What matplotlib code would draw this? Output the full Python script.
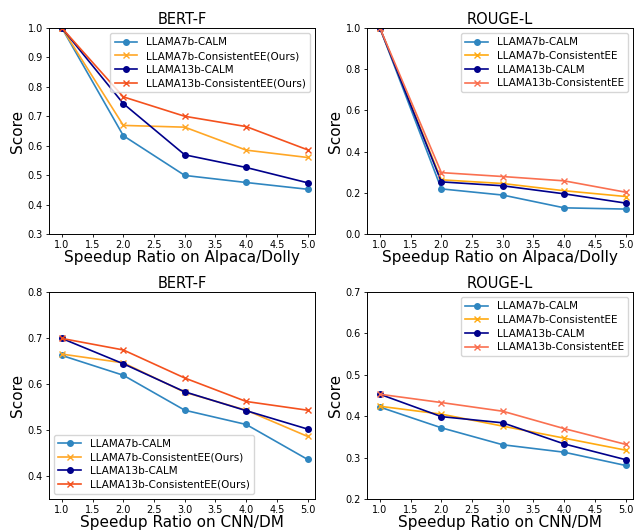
import matplotlib
matplotlib.use("Agg")
import matplotlib.pyplot as plt

speedup = [1.0, 2.0, 3.0, 4.0, 5.0]
series_names = ["LLAMA7b-CALM", "LLAMA7b-ConsistentEE", "LLAMA13b-CALM", "LLAMA13b-ConsistentEE"]

# Alpaca/Dolly BERT-F
ad_bert_7b_calm = [1.0, 0.634, 0.499, 0.475, 0.452]
ad_bert_7b_cee = [1.0, 0.669, 0.663, 0.585, 0.560]
ad_bert_13b_calm = [1.0, 0.743, 0.569, 0.526, 0.474]
ad_bert_13b_cee = [1.0, 0.766, 0.700, 0.665, 0.586]

# Alpaca/Dolly ROUGE-L
ad_rouge_7b_calm = [1.0, 0.219, 0.189, 0.127, 0.121]
ad_rouge_7b_cee = [1.0, 0.263, 0.245, 0.210, 0.182]
ad_rouge_13b_calm = [1.0, 0.253, 0.234, 0.195, 0.150]
ad_rouge_13b_cee = [1.0, 0.298, 0.279, 0.258, 0.203]

# CNN/DM BERT-F
cd_bert_7b_calm = [0.662, 0.619, 0.543, 0.512, 0.436]
cd_bert_7b_cee = [0.665, 0.646, 0.582, 0.543, 0.486]
cd_bert_13b_calm = [0.699, 0.644, 0.583, 0.542, 0.502]
cd_bert_13b_cee = [0.699, 0.674, 0.613, 0.562, 0.543]

# CNN/DM ROUGE-L
cd_rouge_7b_calm = [0.422, 0.372, 0.331, 0.313, 0.281]
cd_rouge_7b_cee = [0.424, 0.405, 0.376, 0.347, 0.318]
cd_rouge_13b_calm = [0.453, 0.399, 0.384, 0.333, 0.295]
cd_rouge_13b_cee = [0.453, 0.433, 0.412, 0.370, 0.332]

fig = plt.figure(figsize=(6.36, 5.31), dpi=100)

W = 266 / 636
H = 207 / 531
positions = [
    [49 / 636, 1 - 234 / 531, W, 206 / 531],
    [367 / 636, 1 - 234 / 531, W, 206 / 531],
    [49 / 636, 1 - 499 / 531, W, H],
    [367 / 636, 1 - 499 / 531, W, H],
]

panels = [
    dict(title="BERT-F", xlabel="Speedup Ratio on Alpaca/Dolly", ylim=(0.3, 1.0),
         yticks=[0.3, 0.4, 0.5, 0.6, 0.7, 0.8, 0.9, 1.0], fmt="%.1f",
         data=[ad_bert_7b_calm, ad_bert_7b_cee, ad_bert_13b_calm, ad_bert_13b_cee],
         ours=True, loc="upper right", red="#f4511e"),
    dict(title="ROUGE-L", xlabel="Speedup Ratio on Alpaca/Dolly", ylim=(0.0, 1.0),
         yticks=[0.0, 0.2, 0.4, 0.6, 0.8, 1.0], fmt="%.1f",
         data=[ad_rouge_7b_calm, ad_rouge_7b_cee, ad_rouge_13b_calm, ad_rouge_13b_cee],
         ours=False, loc="upper right", red="#fa7050"),
    dict(title="BERT-F", xlabel="Speedup Ratio on CNN/DM", ylim=(0.35, 0.8),
         yticks=[0.4, 0.5, 0.6, 0.7, 0.8], fmt="%.1f",
         data=[cd_bert_7b_calm, cd_bert_7b_cee, cd_bert_13b_calm, cd_bert_13b_cee],
         ours=True, loc="lower left", red="#f4511e"),
    dict(title="ROUGE-L", xlabel="Speedup Ratio on CNN/DM", ylim=(0.2, 0.7),
         yticks=[0.2, 0.3, 0.4, 0.5, 0.6, 0.7], fmt="%.1f",
         data=[cd_rouge_7b_calm, cd_rouge_7b_cee, cd_rouge_13b_calm, cd_rouge_13b_cee],
         ours=False, loc="upper right", red="#fa7050"),
]

for pos, p in zip(positions, panels):
    ax = fig.add_axes(pos)
    colors = ["#2f86c0", "#ffa726" if p["ours"] else "#ffaa10", "#00008b", p["red"]]
    markers = ["o", "x", "o", "x"]
    for name, vals, c, m in zip(series_names, p["data"], colors, markers):
        label = name + ("(Ours)" if (p["ours"] and "Consistent" in name) else "")
        ax.plot(speedup, vals, color=c, marker=m, markersize=4, linewidth=1.2, label=label)
    ax.set_ylim(*p["ylim"])
    ax.set_yticks(p["yticks"])
    ax.set_yticklabels([p["fmt"] % v for v in p["yticks"]])
    ax.set_xlim(0.79, 5.12)
    ax.set_xticks([1.0, 1.5, 2.0, 2.5, 3.0, 3.5, 4.0, 4.5, 5.0])
    ax.set_xticklabels(["1.0", "1.5", "2.0", "2.5", "3.0", "3.5", "4.0", "4.5", "5.0"])
    ax.tick_params(labelsize=7, length=2.5, width=0.6, pad=2)
    ax.set_title(p["title"], fontsize=10.5, pad=3)
    ax.set_xlabel(p["xlabel"], fontsize=11, labelpad=0)
    ax.set_ylabel("Score", fontsize=11, labelpad=2)
    for s in ax.spines.values():
        s.set_linewidth(0.7)
    ax.legend(loc=p["loc"], fontsize=7.5, handlelength=2.2, borderpad=0.4,
              labelspacing=0.35, framealpha=0.8)

fig.savefig("out.png", dpi=100)
